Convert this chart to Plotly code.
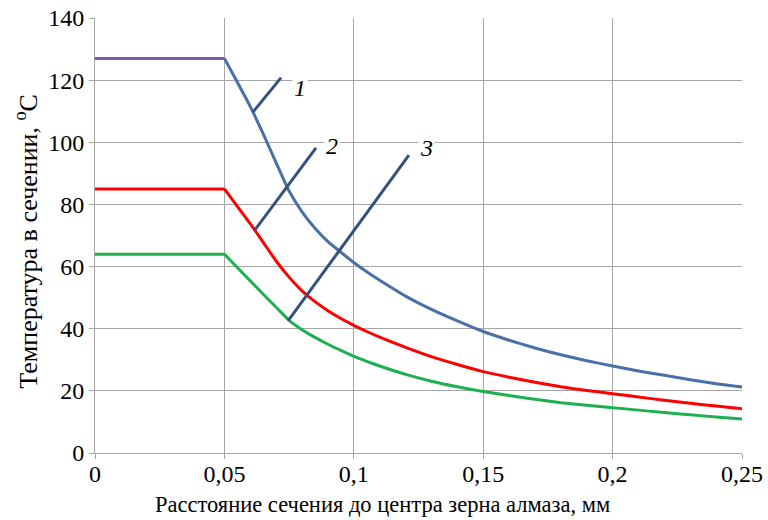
import plotly.graph_objects as go

x = [0, 0.05, 0.055, 0.06, 0.065, 0.07, 0.075, 0.08, 0.085, 0.09, 0.095, 0.1,
     0.105, 0.11, 0.12, 0.13, 0.14, 0.15, 0.16, 0.17, 0.18, 0.19, 0.2,
     0.21, 0.22, 0.23, 0.24, 0.25]
t1 = [127, 127, 119.3, 111.5, 102.7, 93.4, 84.3, 77.6, 72.3, 68, 64.6, 61.3,
      58.3, 55.6, 50.5, 46.2, 42.5, 39.1, 36.3, 33.8, 31.6, 29.7, 28,
      26.4, 25, 23.6, 22.3, 21.2]
t2 = [85, 85, 79.4, 73.8, 67.8, 61.8, 56.6, 52.2, 48.7, 45.8, 43.3, 41.1,
      39.1, 37.3, 34, 31, 28.5, 26.2, 24.4, 22.8, 21.3, 20.1, 19.1,
      18, 17, 16, 15.1, 14.2]
t3 = [64, 64, 59.7, 55.4, 51.1, 46.9, 42.7, 39.7, 37.2, 35, 33, 31.1,
      29.5, 28, 25.3, 23.1, 21.3, 19.8, 18.5, 17.3, 16.2, 15.4, 14.6,
      13.8, 13, 12.3, 11.6, 10.9]

labels = ["1", "2", "3"]
lead_x0 = [0.0611, 0.0618, 0.0746]
lead_y0 = [109.8, 71.8, 42.5]
lead_x1 = [0.0719, 0.0854, 0.1213]
lead_y1 = [120.8, 98.2, 95.9]
lab_x = [0.0792, 0.0916, 0.128]
lab_y = [117.5, 98.8, 98.2]

xticks = [0, 0.05, 0.1, 0.15, 0.2, 0.25]
xtick_text = ["0", "0,05", "0,1", "0,15", "0,2", "0,25"]
yticks = [0, 20, 40, 60, 80, 100, 120, 140]
x_title = "Расстояние сечения до центра зерна алмаза, мм"
y_title = "Температура в сечении, <sup>o</sup>C"

FONT = "Liberation Serif"
fig = go.Figure()
# flat segments
fig.add_trace(go.Scatter(x=x[:2], y=t1[:2], mode="lines",
                         line=dict(color="#7B5AA6", width=3)))
fig.add_trace(go.Scatter(x=x[:2], y=t2[:2], mode="lines",
                         line=dict(color="#FF0000", width=3)))
fig.add_trace(go.Scatter(x=x[:2], y=t3[:2], mode="lines",
                         line=dict(color="#1DB050", width=3)))
# decaying segments
fig.add_trace(go.Scatter(x=x[1:], y=t1[1:], mode="lines", line_shape="spline",
                         line=dict(color="#4A70A8", width=3, smoothing=0.5)))
fig.add_trace(go.Scatter(x=x[1:], y=t2[1:], mode="lines", line_shape="spline",
                         line=dict(color="#FF0000", width=3, smoothing=0.5)))
fig.add_trace(go.Scatter(x=x[1:], y=t3[1:], mode="lines", line_shape="spline",
                         line=dict(color="#1DB050", width=3, smoothing=0.5)))

for i in range(3):
    fig.add_shape(type="line", x0=lead_x0[i], y0=lead_y0[i], x1=lead_x1[i], y1=lead_y1[i],
                  line=dict(color="#34527A", width=3))
    fig.add_annotation(x=lab_x[i], y=lab_y[i], text="<i>" + labels[i] + "</i>",
                       showarrow=False, bgcolor="white",
                       font=dict(family=FONT, size=24, color="black"))

fig.add_annotation(x=0.445, y=-0.1195, xref="paper", yref="paper", text=x_title,
                   showarrow=False, xanchor="center", yanchor="middle",
                   font=dict(family=FONT, size=22.5, color="black"))
fig.add_annotation(x=-0.105, y=0.486, xref="paper", yref="paper", text=y_title,
                   showarrow=False, xanchor="center", yanchor="middle", textangle=-90,
                   font=dict(family=FONT, size=26, color="black"))

axis_common = dict(showline=True, linecolor="#A6A6A6", linewidth=1,
                   gridcolor="#A6A6A6", gridwidth=1, ticks="outside",
                   ticklen=5, tickcolor="#A6A6A6", zeroline=False, automargin=False,
                   tickfont=dict(family=FONT, size=24, color="black"))
fig.update_xaxes(range=[0, 0.25], tickvals=xticks, ticktext=xtick_text,
                 ticklabelstandoff=-6, **axis_common)
fig.update_yaxes(range=[0, 140], tickvals=yticks, **axis_common)
fig.update_layout(width=768, height=520, showlegend=False,
                  plot_bgcolor="white", paper_bgcolor="white",
                  margin=dict(l=95, r=26, t=18, b=67))
fig.write_html("out.html")
